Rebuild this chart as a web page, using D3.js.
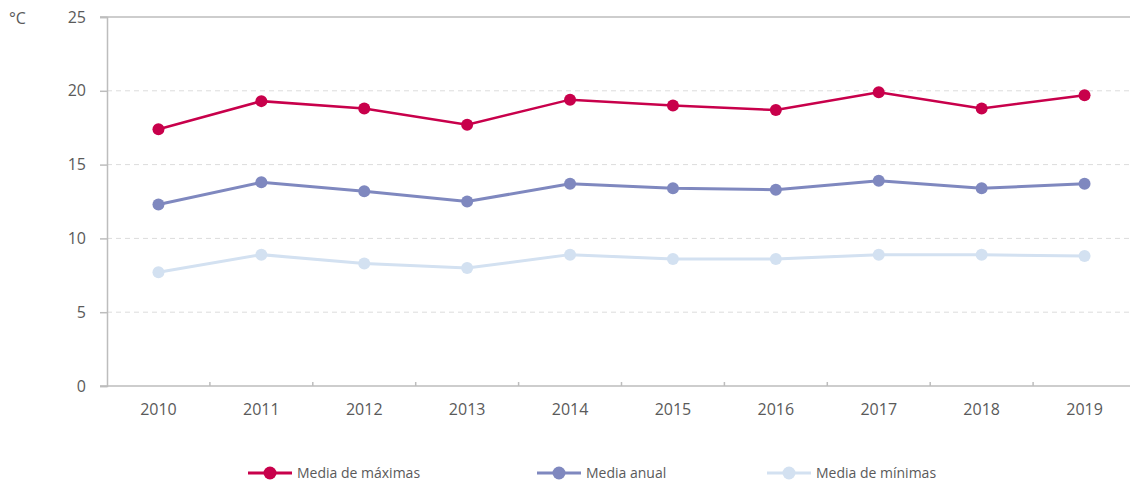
<!DOCTYPE html>
<html>
<head>
<meta charset="utf-8">
<script src="https://cdn.jsdelivr.net/npm/d3@7"></script>
<style>
	body { margin: 0; background: #fff; }
	text { font-family: "Open Sans", sans-serif; fill: #5a5a5a; }
</style>
</head>
<body>
<div id="chart"></div>
<script>
// data
const years = ["2010", "2011", "2012", "2013", "2014", "2015", "2016", "2017", "2018", "2019"];
const mediaMaximas = [17.4, 19.3, 18.8, 17.7, 19.4, 19.0, 18.7, 19.9, 18.8, 19.7];
const mediaAnual = [12.3, 13.8, 13.2, 12.5, 13.7, 13.4, 13.3, 13.9, 13.4, 13.7];
const mediaMinimas = [7.7, 8.9, 8.3, 8.0, 8.9, 8.6, 8.6, 8.9, 8.9, 8.8];
const yTicks = [0, 5, 10, 15, 20, 25];

const series = [
	{ name: "Media de máximas", values: mediaMaximas, color: "#c8004b", width: 2.5 },
	{ name: "Media anual", values: mediaAnual, color: "#7f88bf", width: 3 },
	{ name: "Media de mínimas", values: mediaMinimas, color: "#d3e1f1", width: 3 }
];

const width = 1130, height = 487;
const margin = { top: 17, right: -6, bottom: 101, left: 107 };

const svg = d3.select("#chart").append("svg")
	.attr("width", width)
	.attr("height", height);

const x = d3.scaleBand().domain(years).range([margin.left, width - margin.right]);
const y = d3.scaleLinear().domain([0, 25]).range([height - margin.bottom, margin.top]);

// gridlines
svg.append("g")
	.selectAll("line")
	.data(yTicks.filter(d => d > 0 && d < 25))
	.enter().append("line")
	.attr("x1", margin.left).attr("x2", width)
	.attr("y1", d => y(d)).attr("y2", d => y(d))
	.attr("stroke", "#dcdcdc")
	.attr("stroke-dasharray", "5,4");

// top line
svg.append("line")
	.attr("x1", margin.left - 7).attr("x2", width)
	.attr("y1", y(25)).attr("y2", y(25))
	.attr("stroke", "#bdbdbd").attr("stroke-width", 1.5);

// y axis
const yAxis = svg.append("g")
	.attr("transform", "translate(" + margin.left + ",0)")
	.call(d3.axisLeft(y).tickValues(yTicks).tickSize(7).tickPadding(14));
yAxis.select(".domain").attr("stroke", "#bdbdbd").attr("stroke-width", 1.5);
yAxis.selectAll(".tick line").attr("stroke", "#bdbdbd").attr("stroke-width", 1.5);
yAxis.selectAll(".tick text").style("font-size", "16px").attr("fill", "#5a5a5a");

// x axis
const xAxis = svg.append("g")
	.attr("transform", "translate(0," + y(0) + ")")
	.call(d3.axisBottom(x).tickSize(0).tickPadding(18));
xAxis.select(".domain").remove();
xAxis.selectAll(".tick text").style("font-size", "16px").attr("fill", "#5a5a5a");
svg.append("line")
	.attr("x1", margin.left - 7).attr("x2", width)
	.attr("y1", y(0)).attr("y2", y(0))
	.attr("stroke", "#bdbdbd").attr("stroke-width", 1.5);
svg.append("g")
	.selectAll("line")
	.data(years.slice(1))
	.enter().append("line")
	.attr("x1", d => x(d)).attr("x2", d => x(d))
	.attr("y1", y(0)).attr("y2", y(0) - 4)
	.attr("stroke", "#bdbdbd").attr("stroke-width", 1.5);

// unit label
svg.append("text")
	.attr("x", 9).attr("y", 24)
	.style("font-size", "16px")
	.text("°C");

// lines and points
const line = d3.line()
	.x((d, i) => x(years[i]) + x.bandwidth() / 2)
	.y(d => y(d));

series.slice().reverse().forEach(s => {
	const g = svg.append("g");
	g.append("path")
		.datum(s.values)
		.attr("fill", "none")
		.attr("stroke", s.color)
		.attr("stroke-width", s.width)
		.attr("d", line);
	g.selectAll("circle")
		.data(s.values)
		.enter().append("circle")
		.attr("r", 6)
		.attr("cx", (d, i) => x(years[i]) + x.bandwidth() / 2)
		.attr("cy", d => y(d))
		.attr("fill", s.color);
});

// legend
const legendX = [248, 537, 767];
const legend = svg.append("g");
series.forEach((s, i) => {
	const lg = legend.append("g").attr("transform", "translate(" + legendX[i] + ",473)");
	lg.append("line")
		.attr("x1", 0).attr("x2", 44)
		.attr("stroke", s.color).attr("stroke-width", 3);
	lg.append("circle").attr("cx", 22).attr("r", 6.5).attr("fill", s.color);
	lg.append("text")
		.attr("x", 49).attr("y", 5)
		.style("font-size", "14px")
		.text(s.name);
});
</script>
</body>
</html>
